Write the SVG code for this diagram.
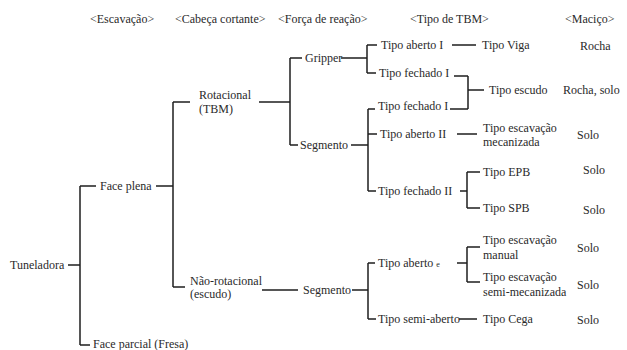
<svg xmlns="http://www.w3.org/2000/svg" width="627" height="350" viewBox="0 0 627 350" font-family="'Liberation Serif', 'DejaVu Serif', serif" font-size="12">
<style>
text{font-family:'Liberation Serif','DejaVu Serif',serif;font-size:12px;fill:#2a2a2a}
.c line{stroke:#1e1e1e;stroke-width:1.5;fill:none}
</style>
<rect width="627" height="350" fill="#ffffff"/>
<g id="headers">
<text x="90" y="23">&lt;Escavação&gt;</text>
<text x="175" y="23">&lt;Cabeça cortante&gt;</text>
<text x="278" y="23">&lt;Força de reação&gt;</text>
<text x="410" y="23">&lt;Tipo de TBM&gt;</text>
<text x="565" y="23">&lt;Maciço&gt;</text>
</g>
<g class="c" id="connectors">
<line x1="68" y1="265" x2="80" y2="265"/>
<line x1="80" y1="186" x2="80" y2="345"/>
<line x1="80" y1="186" x2="96" y2="186"/>
<line x1="80" y1="345" x2="90" y2="345"/>
<line x1="156" y1="186" x2="173" y2="186"/>
<line x1="173" y1="102" x2="173" y2="287"/>
<line x1="173" y1="102" x2="190" y2="102"/>
<line x1="173" y1="287" x2="185" y2="287"/>
<line x1="259" y1="102" x2="290" y2="102"/>
<line x1="290" y1="58" x2="290" y2="145"/>
<line x1="290" y1="58" x2="302" y2="58"/>
<line x1="290" y1="145" x2="298" y2="145"/>
<line x1="341" y1="58" x2="367" y2="58"/>
<line x1="367" y1="45" x2="367" y2="73"/>
<line x1="367" y1="45" x2="377" y2="45"/>
<line x1="367" y1="73" x2="376" y2="73"/>
<line x1="452" y1="45" x2="476" y2="45"/>
<line x1="454" y1="76" x2="468" y2="76"/>
<line x1="468" y1="76" x2="468" y2="109"/>
<line x1="450" y1="109" x2="468" y2="109"/>
<line x1="468" y1="90" x2="484" y2="90"/>
<line x1="351" y1="145" x2="368" y2="145"/>
<line x1="368" y1="109" x2="368" y2="191"/>
<line x1="368" y1="109" x2="375" y2="109"/>
<line x1="368" y1="134" x2="377" y2="134"/>
<line x1="368" y1="191" x2="376" y2="191"/>
<line x1="457" y1="134" x2="477" y2="134"/>
<line x1="460" y1="191" x2="467" y2="191"/>
<line x1="467" y1="172" x2="467" y2="208"/>
<line x1="467" y1="172" x2="480" y2="172"/>
<line x1="467" y1="208" x2="480" y2="208"/>
<line x1="262" y1="290" x2="298" y2="290"/>
<line x1="352" y1="290" x2="368" y2="290"/>
<line x1="368" y1="263" x2="368" y2="319"/>
<line x1="368" y1="263" x2="375" y2="263"/>
<line x1="368" y1="319" x2="376" y2="319"/>
<line x1="457" y1="263" x2="467" y2="263"/>
<line x1="467" y1="247" x2="467" y2="282"/>
<line x1="467" y1="247" x2="480" y2="247"/>
<line x1="467" y1="282" x2="480" y2="282"/>
<line x1="459" y1="319" x2="477" y2="319"/>
</g>
<g id="tuneladora"><text x="10" y="269">Tuneladora</text></g>
<g id="face-plena"><text x="100" y="190">Face plena</text></g>
<g id="face-parcial"><text x="93" y="348">Face parcial (Fresa)</text></g>
<g id="rotacional"><text x="199" y="99">Rotacional</text><text x="199" y="113">(TBM)</text></g>
<g id="nao-rotacional"><text x="190" y="285">Não-rotacional</text><text x="190" y="298">(escudo)</text></g>
<g id="gripper"><text x="305" y="62">Gripper</text></g>
<g id="segmento-1"><text x="300" y="149">Segmento</text></g>
<g id="segmento-2"><text x="303" y="294">Segmento</text></g>
<g id="tipo-aberto-1"><text x="381" y="49">Tipo aberto I</text></g>
<g id="tipo-fechado-1a"><text x="379" y="77">Tipo fechado I</text></g>
<g id="tipo-fechado-1b"><text x="378" y="110">Tipo fechado I</text></g>
<g id="tipo-aberto-2"><text x="380" y="138">Tipo aberto II</text></g>
<g id="tipo-fechado-2"><text x="378" y="195">Tipo fechado II</text></g>
<g id="tipo-aberto-e"><text x="378" y="267">Tipo aberto <tspan font-size="8">e</tspan></text></g>
<g id="tipo-semi-aberto"><text x="378" y="323">Tipo semi-aberto</text></g>
<g id="tipo-viga"><text x="482" y="49">Tipo Viga</text></g>
<g id="tipo-escudo"><text x="489" y="94">Tipo escudo</text></g>
<g id="tipo-esc-mec"><text x="483" y="132">Tipo escavação</text><text x="483" y="146">mecanizada</text></g>
<g id="tipo-epb"><text x="483" y="176">Tipo EPB</text></g>
<g id="tipo-spb"><text x="483" y="212">Tipo SPB</text></g>
<g id="tipo-esc-manual"><text x="483" y="244">Tipo escavação</text><text x="483" y="259">manual</text></g>
<g id="tipo-esc-semi"><text x="483" y="281">Tipo escavação</text><text x="483" y="296">semi-mecanizada</text></g>
<g id="tipo-cega"><text x="483" y="323">Tipo Cega</text></g>
<g id="macico">
<text x="580" y="50">Rocha</text>
<text x="563" y="94">Rocha, solo</text>
<text x="577" y="139">Solo</text>
<text x="583" y="174">Solo</text>
<text x="583" y="214">Solo</text>
<text x="577" y="252">Solo</text>
<text x="577" y="289">Solo</text>
<text x="577" y="324">Solo</text>
</g>
</svg>
